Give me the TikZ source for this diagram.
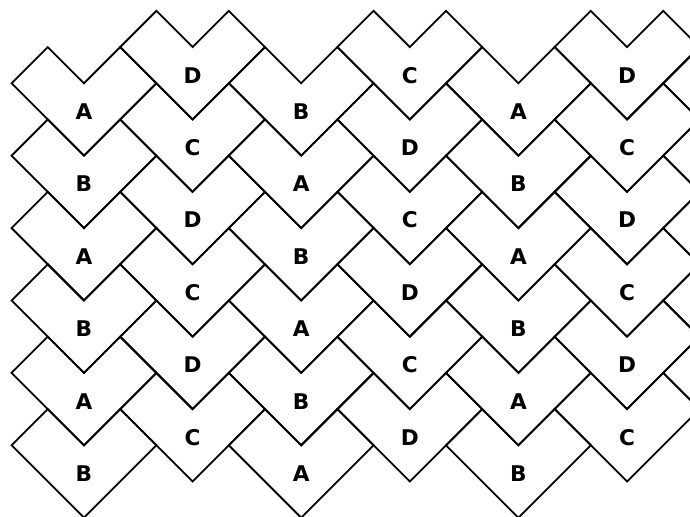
\documentclass[tikz,border=0pt]{standalone}
\usepackage{fontspec}
\setmainfont{DejaVu Sans}
\begin{document}
\begin{tikzpicture}
[
    tile/.style={draw, line width=1.4pt, line join=miter},
    letter/.style={font=\fontsize{17}{20}\selectfont\bfseries}
]
    \useasboundingbox (0,0) rectangle (19.06,-14.28);
    \clip (0,0) rectangle (19.06,-14.28);

    % chevron tiles, column by column
    \foreach \col/\rows in {0/5,1/5,2/5,3/5,4/5,5/5,6/4} {
        \pgfmathsetmacro{\yo}{ifthenelse(mod(\col,2)==0,-2.3,-1.3)}
        \foreach \row in {0,...,\rows} {
            \coordinate (p-\col-\row) at (0.32+3*\col, \yo-2*\row);
            \draw[tile] (p-\col-\row) -- ++(1,1) -- ++(1,-1) -- ++(1,1)
                -- ++(1,-1) -- ++(-2,-2) -- cycle;
        }
    }

    % letters
    \foreach \col/\letters in {0/{A,B,A,B,A,B}, 1/{D,C,D,C,D,C}, 2/{B,A,B,A,B,A},
                               3/{C,D,C,D,C,D}, 4/{A,B,A,B,A,B}, 5/{D,C,D,C,D,C}} {
        \foreach \lab [count=\row from 0] in \letters {
            \node[letter] (lab-\col-\row) at ([shift={(2,-0.78)}]p-\col-\row) {\lab};
        }
    }
\end{tikzpicture}
\end{document}
